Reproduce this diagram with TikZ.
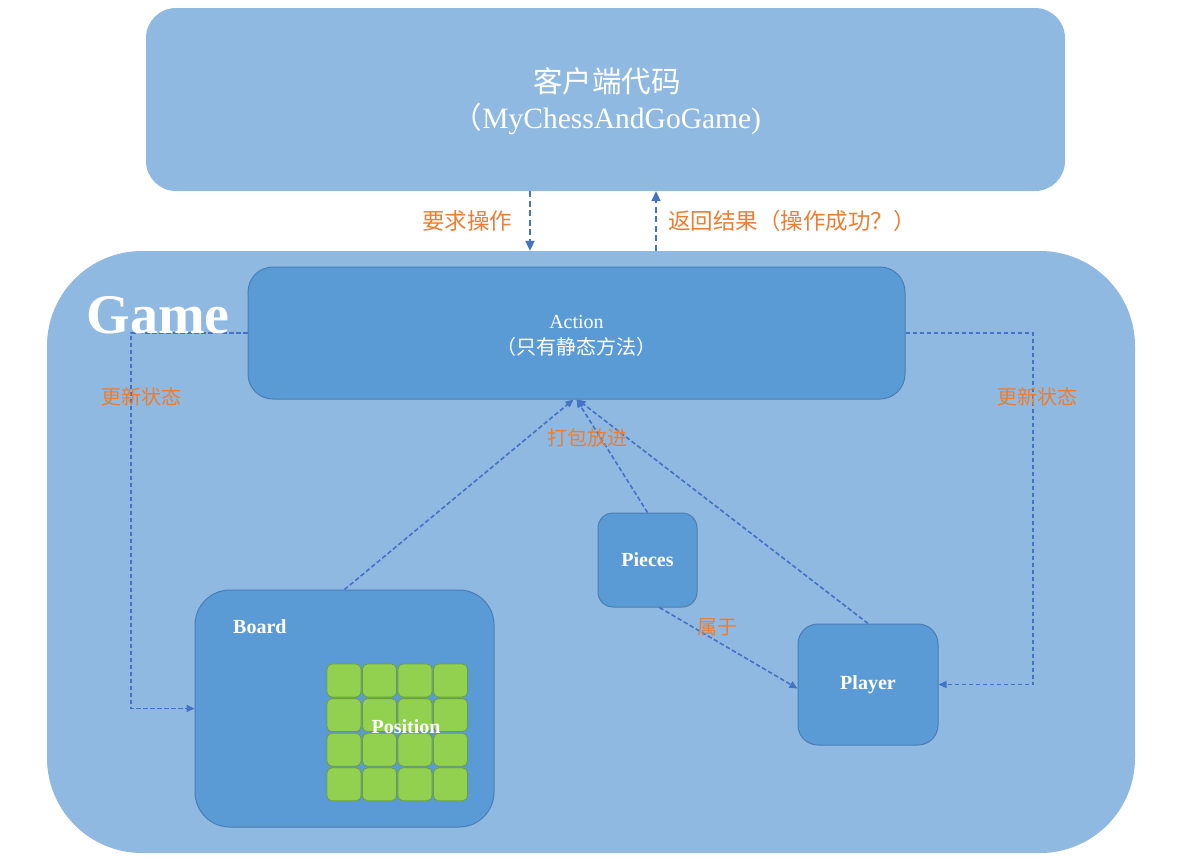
\documentclass[tikz,border=0pt]{standalone}
\usepackage{fontspec}
\setmainfont{Liberation Serif}
\newfontfamily\cjk{Noto Sans CJK SC}
\usetikzlibrary{arrows.meta}
\definecolor{outerblue}{HTML}{8FB9E1}
\definecolor{boxblue}{HTML}{5B9BD5}
\definecolor{boxedge}{HTML}{4A7DB5}
\definecolor{cellgreen}{HTML}{92D050}
\definecolor{celledge}{HTML}{6E9E3C}
\definecolor{lblorange}{HTML}{ED7D31}
\definecolor{dashblue}{HTML}{4472C4}
\newcommand\fsz[2]{\fontsize{#1}{#2}\selectfont}
\begin{document}
\begin{tikzpicture}[x=1pt,y=-1pt,
  region/.style={fill=outerblue, draw=none, inner sep=0pt},
  classbox/.style={fill=boxblue, draw=boxedge, line width=1pt, inner sep=0pt, text=white},
  cellbox/.style={fill=cellgreen, draw=celledge, line width=0.8pt, rounded corners=5pt,
    minimum width=34pt, minimum height=33pt, inner sep=0pt},
  bigflow/.style={draw=dashblue, line width=2pt, dash pattern=on 6pt off 3.5pt,
    -{Triangle[length=10pt,width=9pt]}},
  flow/.style={draw=dashblue, line width=1.6pt, dash pattern=on 4.5pt off 2.5pt,
    -{Triangle[length=8pt,width=7pt]}},
  lbl/.style={text=lblorange, inner sep=0pt},
  ttl/.style={text=white, inner sep=0pt, font=\bfseries\fsz{20}{24}}]
\useasboundingbox (0,0) rectangle (1193,863);
\fill[white] (0,0) rectangle (1193,863);

% client
\node[region, rounded corners=30pt, minimum width=919pt, minimum height=183pt] (client) at (605.5,99.5) {};
\node[text=white, align=center, inner sep=0pt, font=\fsz{29.5}{36}] (clienttxt) at (607,101)
  {{\cjk 客户端代码}\\{\cjk （}MyChessAndGoGame)};

% game container
\node[region, rounded corners=95pt, minimum width=1088pt, minimum height=602pt] (game) at (591,552) {};

% action
\node[classbox, rounded corners=25pt, minimum width=657pt, minimum height=132pt] (act) at (576.5,333) {};
\node[text=white, inner sep=0pt, align=center, font=\fsz{20}{26}] (acttxt) at (576.5,335.5)
  {Action\\{\cjk （只有静态方法）}};

% board
\node[classbox, rounded corners=35pt, minimum width=299pt, minimum height=237pt] (board) at (344.5,708.5) {};
\node[ttl, anchor=west] (boardtxt) at (233,627) {Board};
\foreach \i in {0,...,3}{
  \foreach \j in {0,...,3}{
    \node[cellbox] (cell-\i-\j) at ({344+35.5*\i},{680.5+34.6*\j}) {};
  }
}
\node[ttl] (postxt) at (406,727) {Position};

% pieces and player
\node[classbox, rounded corners=15pt, minimum width=99pt, minimum height=94pt, font=\bfseries\fsz{20}{24}] (pieces) at (647.5,560) {Pieces};
\node[classbox, rounded corners=20pt, minimum width=140pt, minimum height=121pt, font=\bfseries\fsz{20}{24}] (player) at (868,684.5) {Player};

% client <-> game
\draw[bigflow] ([xshift=-75.5pt]client.south) -- ([xshift=-61pt]game.north);
\draw[bigflow] ([xshift=65pt]game.north) -- ([xshift=50.5pt]client.south);
\node[lbl, font=\cjk\fsz{22.5}{26}] (reqlbl) at (467,221) {要求操作};
\node[lbl, font=\cjk\fsz{22.5}{26}, anchor=west] (retlbl) at (668,221) {返回结果（操作成功？）};

% update state
\coordinate (lc) at (131,500);
\coordinate (rc) at (1033,500);
\draw[flow] (act.west) -| (lc) |- (board.west);
\draw[flow] (act.east) -| (rc) |- (player.east);
\node[lbl, font=\cjk\fsz{20}{24}] (updl) at (141,397) {更新状态};
\node[lbl, font=\cjk\fsz{20}{24}] (updr) at (1037,397) {更新状态};

% Game title, over the connector
\node[text=white, inner sep=0pt, font=\bfseries\fsz{56}{60}] (gametxt) at (158,315) {Game};

% pack into action
\draw[flow] (board.north) -- ([xshift=-3pt]act.south);
\draw[flow] (pieces.north) -- ([xshift=0pt]act.south);
\draw[flow] (player.north) -- ([xshift=1pt]act.south);
\node[lbl, font=\cjk\fsz{20}{24}] (packlbl) at (587,438) {打包放进};

% belongs to
\draw[flow] ([xshift=12pt]pieces.south) -- ([yshift=-4pt]player.west);
\node[lbl, font=\cjk\fsz{20}{24}] (belong) at (717,627) {属于};
\end{tikzpicture}
\end{document}
